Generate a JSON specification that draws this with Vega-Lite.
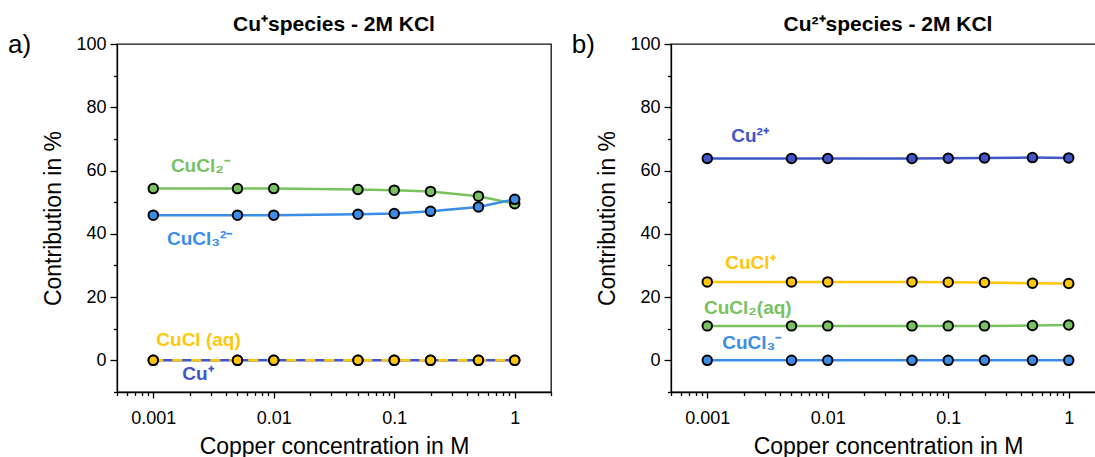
{
  "$schema": "https://vega.github.io/schema/vega-lite/v6.json",
  "background": "white",
  "padding": {"left": 7, "top": 13, "right": 0, "bottom": 0},
  "config": {
    "font": "Liberation Sans",
    "view": {"stroke": "#111", "strokeWidth": 1.3},
    "title": {"fontSize": 21, "fontWeight": "bold", "color": "black", "font": "Liberation Sans", "offset": -3},
    "axis": {
      "domainColor": "black", "domainWidth": 1.3, "tickColor": "black", "tickWidth": 1.3,
      "labelColor": "black", "labelFontSize": 18, "labelFont": "Liberation Sans",
      "titleColor": "black", "titleFontSize": 23, "titleFontWeight": "normal", "titleFont": "Liberation Sans",
      "grid": false
    }
  },
  "datasets": {
    "cu1": [
      {"conc": 0.001, "species": "Cu+", "value": 0},
      {"conc": 0.005, "species": "Cu+", "value": 0},
      {"conc": 0.01, "species": "Cu+", "value": 0},
      {"conc": 0.05, "species": "Cu+", "value": 0},
      {"conc": 0.1, "species": "Cu+", "value": 0},
      {"conc": 0.2, "species": "Cu+", "value": 0},
      {"conc": 0.5, "species": "Cu+", "value": 0},
      {"conc": 1, "species": "Cu+", "value": 0},
      {"conc": 0.001, "species": "CuCl2-", "value": 54.3},
      {"conc": 0.005, "species": "CuCl2-", "value": 54.3},
      {"conc": 0.01, "species": "CuCl2-", "value": 54.3},
      {"conc": 0.05, "species": "CuCl2-", "value": 54.0},
      {"conc": 0.1, "species": "CuCl2-", "value": 53.8},
      {"conc": 0.2, "species": "CuCl2-", "value": 53.4},
      {"conc": 0.5, "species": "CuCl2-", "value": 51.9},
      {"conc": 1, "species": "CuCl2-", "value": 49.5},
      {"conc": 0.001, "species": "CuCl3 2-", "value": 45.9},
      {"conc": 0.005, "species": "CuCl3 2-", "value": 45.9},
      {"conc": 0.01, "species": "CuCl3 2-", "value": 45.9},
      {"conc": 0.05, "species": "CuCl3 2-", "value": 46.2},
      {"conc": 0.1, "species": "CuCl3 2-", "value": 46.4},
      {"conc": 0.2, "species": "CuCl3 2-", "value": 47.1},
      {"conc": 0.5, "species": "CuCl3 2-", "value": 48.5},
      {"conc": 1, "species": "CuCl3 2-", "value": 50.9},
      {"conc": 0.001, "species": "CuCl (aq)", "value": 0},
      {"conc": 0.005, "species": "CuCl (aq)", "value": 0},
      {"conc": 0.01, "species": "CuCl (aq)", "value": 0},
      {"conc": 0.05, "species": "CuCl (aq)", "value": 0},
      {"conc": 0.1, "species": "CuCl (aq)", "value": 0},
      {"conc": 0.2, "species": "CuCl (aq)", "value": 0},
      {"conc": 0.5, "species": "CuCl (aq)", "value": 0},
      {"conc": 1, "species": "CuCl (aq)", "value": 0}
    ],
    "cu1labels": [
      {"species": "CuCl2-", "label": "CuCl₂⁻", "conc": 0.0014, "value": 61.5},
      {"species": "CuCl3 2-", "label": "CuCl₃²⁻", "conc": 0.0013, "value": 38.3},
      {"species": "CuCl (aq)", "label": "CuCl (aq)", "conc": 0.00106, "value": 6.3},
      {"species": "Cu+", "label": "Cu⁺", "conc": 0.00174, "value": -4.4}
    ],
    "cu2": [
      {"conc": 0.001, "species": "CuCl3-", "value": 0},
      {"conc": 0.005, "species": "CuCl3-", "value": 0},
      {"conc": 0.01, "species": "CuCl3-", "value": 0},
      {"conc": 0.05, "species": "CuCl3-", "value": 0},
      {"conc": 0.1, "species": "CuCl3-", "value": 0},
      {"conc": 0.2, "species": "CuCl3-", "value": 0},
      {"conc": 0.5, "species": "CuCl3-", "value": 0},
      {"conc": 1, "species": "CuCl3-", "value": 0},
      {"conc": 0.001, "species": "CuCl2(aq)", "value": 10.9},
      {"conc": 0.005, "species": "CuCl2(aq)", "value": 10.9},
      {"conc": 0.01, "species": "CuCl2(aq)", "value": 10.9},
      {"conc": 0.05, "species": "CuCl2(aq)", "value": 10.9},
      {"conc": 0.1, "species": "CuCl2(aq)", "value": 10.9},
      {"conc": 0.2, "species": "CuCl2(aq)", "value": 10.9},
      {"conc": 0.5, "species": "CuCl2(aq)", "value": 11.0},
      {"conc": 1, "species": "CuCl2(aq)", "value": 11.2},
      {"conc": 0.001, "species": "CuCl+", "value": 24.8},
      {"conc": 0.005, "species": "CuCl+", "value": 24.8},
      {"conc": 0.01, "species": "CuCl+", "value": 24.8},
      {"conc": 0.05, "species": "CuCl+", "value": 24.8},
      {"conc": 0.1, "species": "CuCl+", "value": 24.7},
      {"conc": 0.2, "species": "CuCl+", "value": 24.6},
      {"conc": 0.5, "species": "CuCl+", "value": 24.4},
      {"conc": 1, "species": "CuCl+", "value": 24.3},
      {"conc": 0.001, "species": "Cu2+", "value": 63.8},
      {"conc": 0.005, "species": "Cu2+", "value": 63.8},
      {"conc": 0.01, "species": "Cu2+", "value": 63.8},
      {"conc": 0.05, "species": "Cu2+", "value": 63.8},
      {"conc": 0.1, "species": "Cu2+", "value": 63.9},
      {"conc": 0.2, "species": "Cu2+", "value": 64.0},
      {"conc": 0.5, "species": "Cu2+", "value": 64.1},
      {"conc": 1, "species": "Cu2+", "value": 64.0}
    ],
    "cu2labels": [
      {"species": "Cu2+", "label": "Cu²⁺", "conc": 0.00158, "value": 70.9},
      {"species": "CuCl+", "label": "CuCl⁺", "conc": 0.00141, "value": 30.7},
      {"species": "CuCl2(aq)", "label": "CuCl₂(aq)", "conc": 0.00094, "value": 16.5},
      {"species": "CuCl3-", "label": "CuCl₃⁻", "conc": 0.00133, "value": 5.5}
    ],
    "panelA": [{"tag": "a)", "conc": 0.0000623, "value": 97}],
    "panelB": [{"tag": "b)", "conc": 0.000075, "value": 97}]
  },
  "spacing": 120,
  "bounds": "flush",
  "hconcat": [
    {
      "width": 434,
      "height": 348,
      "title": {"text": "Cu⁺species - 2M KCl"},
      "encoding": {
        "x": {"field": "conc", "type": "quantitative",
          "scale": {"type": "log", "domain": [0.0005, 2], "nice": false},
          "axis": {"title": "Copper concentration in M", "titlePadding": 8,
            "values": [0.0005, 0.0006, 0.0007, 0.0008, 0.0009, 0.001, 0.002, 0.003, 0.004, 0.005, 0.006, 0.007, 0.008, 0.009, 0.01, 0.02, 0.03, 0.04, 0.05, 0.06, 0.07, 0.08, 0.09, 0.1, 0.2, 0.3, 0.4, 0.5, 0.6, 0.7, 0.8, 0.9, 1, 2],
            "labelExpr": "abs(log(datum.value)/LN10 - round(log(datum.value)/LN10)) < 1e-6 ? format(datum.value, '~g') : ''",
            "labelOverlap": false, "labelFlush": false, "labelPadding": 11,
            "tickSize": {"condition": {"test": "abs(log(datum.value)/LN10 - round(log(datum.value)/LN10)) < 1e-6", "value": 6}, "value": 3.5}}},
        "y": {"field": "value", "type": "quantitative",
          "scale": {"domain": [-10, 100], "nice": false, "zero": false},
          "axis": {"title": "Contribution in %", "titlePadding": 10,
            "values": [-10, 0, 10, 20, 30, 40, 50, 60, 70, 80, 90, 100],
            "labelExpr": "datum.value % 20 === 0 ? datum.label : ''",
            "labelPadding": 4,
            "tickSize": {"condition": {"test": "datum.value % 20 === 0", "value": 7}, "value": 3.5}}},
        "color": {"field": "species", "type": "nominal", "legend": null,
          "scale": {"domain": ["Cu+", "CuCl2-", "CuCl3 2-", "CuCl (aq)", "Cu2+", "CuCl+", "CuCl2(aq)", "CuCl3-"],
            "range": ["#3f55c9", "#78c25f", "#3a8ee8", "#ffc60a", "#3f55c9", "#ffc60a", "#78c25f", "#3a8ee8"]}}
      },
      "layer": [
        {"data": {"name": "cu1"}, "transform": [{"filter": "datum.species !== 'CuCl (aq)'"}],
          "mark": {"type": "line", "strokeWidth": 2.5}},
        {"data": {"name": "cu1"}, "transform": [{"filter": "datum.species === 'CuCl (aq)'"}],
          "mark": {"type": "line", "strokeWidth": 2.5, "strokeDash": [10, 9]}},
        {"data": {"name": "cu1"},
          "mark": {"type": "point", "filled": true, "size": 90, "stroke": "black", "strokeWidth": 2, "opacity": 1}},
        {"data": {"name": "cu1labels"},
          "mark": {"type": "text", "align": "left", "baseline": "middle", "fontSize": 19, "fontWeight": "bold"},
          "encoding": {"text": {"field": "label"}}},
        {"data": {"name": "panelA"},
          "mark": {"type": "text", "align": "left", "baseline": "alphabetic", "fontSize": 26, "color": "black"},
          "encoding": {"text": {"field": "tag"}, "color": {"value": "black"}}}
      ]
    },
    {
      "width": 434,
      "height": 348,
      "title": {"text": "Cu²⁺species - 2M KCl"},
      "encoding": {
        "x": {"field": "conc", "type": "quantitative",
          "scale": {"type": "log", "domain": [0.0005, 2], "nice": false},
          "axis": {"title": "Copper concentration in M", "titlePadding": 8,
            "values": [0.0005, 0.0006, 0.0007, 0.0008, 0.0009, 0.001, 0.002, 0.003, 0.004, 0.005, 0.006, 0.007, 0.008, 0.009, 0.01, 0.02, 0.03, 0.04, 0.05, 0.06, 0.07, 0.08, 0.09, 0.1, 0.2, 0.3, 0.4, 0.5, 0.6, 0.7, 0.8, 0.9, 1, 2],
            "labelExpr": "abs(log(datum.value)/LN10 - round(log(datum.value)/LN10)) < 1e-6 ? format(datum.value, '~g') : ''",
            "labelOverlap": false, "labelFlush": false, "labelPadding": 11,
            "tickSize": {"condition": {"test": "abs(log(datum.value)/LN10 - round(log(datum.value)/LN10)) < 1e-6", "value": 6}, "value": 3.5}}},
        "y": {"field": "value", "type": "quantitative",
          "scale": {"domain": [-10, 100], "nice": false, "zero": false},
          "axis": {"title": "Contribution in %", "titlePadding": 10,
            "values": [-10, 0, 10, 20, 30, 40, 50, 60, 70, 80, 90, 100],
            "labelExpr": "datum.value % 20 === 0 ? datum.label : ''",
            "labelPadding": 4,
            "tickSize": {"condition": {"test": "datum.value % 20 === 0", "value": 7}, "value": 3.5}}},
        "color": {"field": "species", "type": "nominal", "legend": null,
          "scale": {"domain": ["Cu+", "CuCl2-", "CuCl3 2-", "CuCl (aq)", "Cu2+", "CuCl+", "CuCl2(aq)", "CuCl3-"],
            "range": ["#3f55c9", "#78c25f", "#3a8ee8", "#ffc60a", "#3f55c9", "#ffc60a", "#78c25f", "#3a8ee8"]}}
      },
      "layer": [
        {"data": {"name": "cu2"}, "mark": {"type": "line", "strokeWidth": 2.5}},
        {"data": {"name": "cu2"},
          "mark": {"type": "point", "filled": true, "size": 90, "stroke": "black", "strokeWidth": 2, "opacity": 1}},
        {"data": {"name": "cu2labels"},
          "mark": {"type": "text", "align": "left", "baseline": "middle", "fontSize": 19, "fontWeight": "bold"},
          "encoding": {"text": {"field": "label"}}},
        {"data": {"name": "panelB"},
          "mark": {"type": "text", "align": "left", "baseline": "alphabetic", "fontSize": 26, "color": "black"},
          "encoding": {"text": {"field": "tag"}, "color": {"value": "black"}}}
      ]
    }
  ]
}
